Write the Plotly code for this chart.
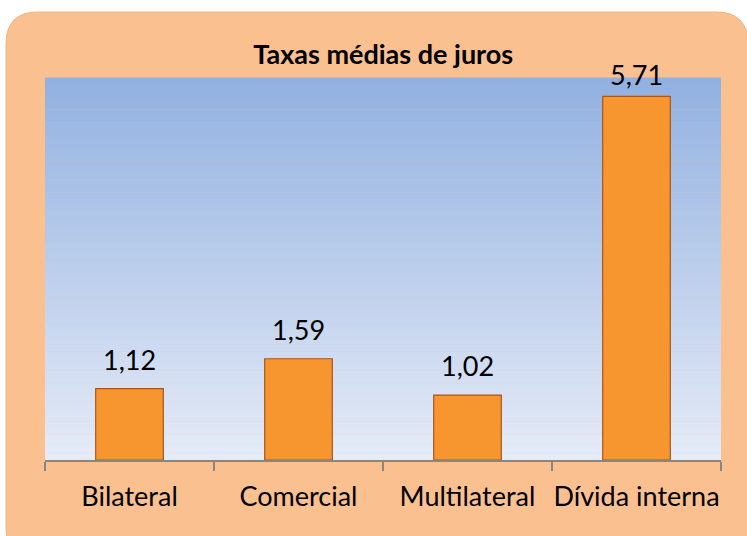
import plotly.graph_objects as go

categories = ["Bilateral", "Comercial", "Multilateral", "Dívida interna"]
values = [1.12, 1.59, 1.02, 5.71]
title_text = "Taxas médias de juros"

W, H = 747, 536
L, R, T, B = 45, 26, 78, 76
pw, ph = W - L - R, H - T - B
YMAX = 6.0
FONT = "Lato, Open Sans, sans-serif"

fig = go.Figure()
fig.add_trace(go.Bar(
    x=categories, y=values,
    width=0.40,
    marker=dict(color="#F7952F", line=dict(color="#A95718", width=1.2)),
    hoverinfo="x+y",
))

# data labels above the bars, kept inside the chart like the original
label_top_limit = 66  # px from top of figure
annotations = []
for c, v in zip(categories, values):
    bar_top_px = T + ph * (1 - v / YMAX)
    shift = min(11, bar_top_px - label_top_limit - 27)
    annotations.append(dict(x=c, y=v, xref="x", yref="y", text=f"{v:.2f}".replace(".", ","),
                            showarrow=False, yanchor="bottom", yshift=shift,
                            font=dict(family=FONT, size=27, color="#000000")))

shapes = []
def px_to_paper_x(px):
    return (px - L) / pw

def px_to_paper_y(py):
    return (H - B - py) / ph

x0, x1 = px_to_paper_x(6), px_to_paper_x(748)
y0, y1 = px_to_paper_y(12), px_to_paper_y(560)
rx, ry = 32 / pw, 32 / ph
path = (f"M {x0+rx},{y0} L {x1-rx},{y0} Q {x1},{y0} {x1},{y0-ry} "
        f"L {x1},{y1+ry} Q {x1},{y1} {x1-rx},{y1} L {x0+rx},{y1} Q {x0},{y1} {x0},{y1+ry} "
        f"L {x0},{y0-ry} Q {x0},{y0} {x0+rx},{y0} Z")
shapes.append(dict(type="path", xref="paper", yref="paper", path=path,
                   fillcolor="#FAC090", line=dict(color="#F5B47C", width=1), layer="below"))

top = (146, 177, 225)
bot = (229, 235, 247)
n = 60
for i in range(n):
    t = i / (n - 1)
    c = tuple(round(top[k] + (bot[k] - top[k]) * t) for k in range(3))
    shapes.append(dict(type="rect", xref="paper", yref="paper",
                       x0=0, x1=1, y0=1 - (i + 1) / n, y1=1 - i / n + 0.001,
                       fillcolor=f"rgb{c}", line=dict(width=0), layer="below"))

fig.update_layout(
    width=W, height=H,
    margin=dict(l=L, r=R, t=T, b=B, autoexpand=False),
    paper_bgcolor="white", plot_bgcolor="rgba(0,0,0,0)",
    separators=",.",
    showlegend=False,
    shapes=shapes,
    annotations=annotations,
    title=dict(text=f"<b>{title_text}</b>", x=0.513, xanchor="center", y=1 - 55 / H, yanchor="middle",
               font=dict(family=FONT, size=27, color="#000000")),
    xaxis=dict(type="category", tickson="boundaries", ticks="outside", ticklen=9,
               tickcolor="#868686", tickwidth=1.5, showline=True, linecolor="#868686", linewidth=2,
               showgrid=False, tickfont=dict(family=FONT, size=27, color="#000000"),
               tickangle=0, automargin=False, ticklabelstandoff=12),
    yaxis=dict(range=[0, YMAX], visible=False, showgrid=False, automargin=False),
    bargap=0.6,
)

fig.write_html("out.html", config={"displayModeBar": False},
               post_script="document.body.style.margin='0';")
